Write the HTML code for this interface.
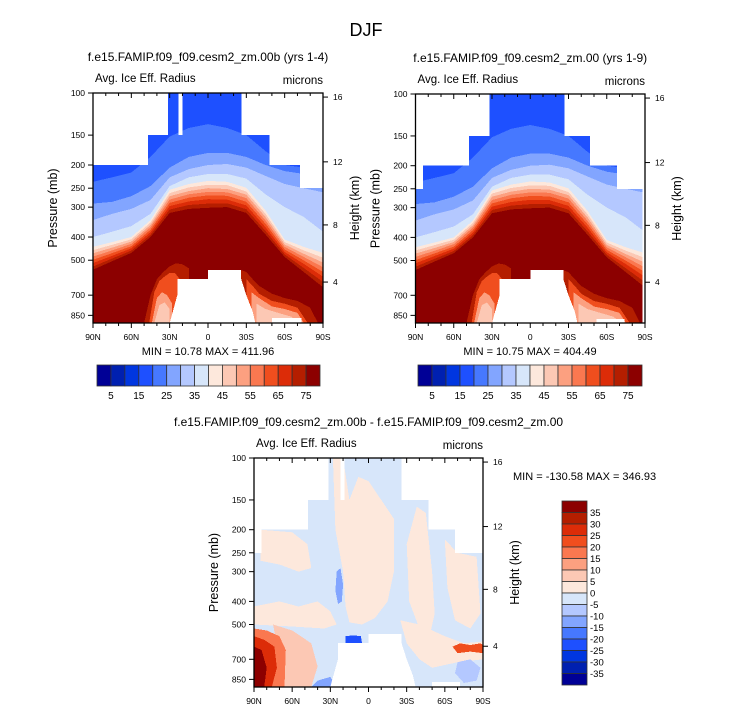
<!DOCTYPE html>
<html><head><meta charset="utf-8">
<style>
html,body{margin:0;padding:0;background:#fff;}
svg{display:block;font-family:"Liberation Sans",sans-serif;}
</style></head>
<body>
<svg id="fig" width="733" height="712" viewBox="0 0 733 712" xmlns="http://www.w3.org/2000/svg">
<text x="366" y="36" text-anchor="middle" font-size="18">DJF</text>
</svg>
<script>
// ---------- data ----------
const presTicks = [100,150,200,250,300,400,500,700,850];
const latTicks = [90,60,30,0,-30,-60,-90];
const latTickLabels = ["90N","60N","30N","0","30S","60S","90S"];
const kmTicks = [4,8,12,16];
const kmTickPres = [617,356,194,104];
const absColors = ["#000096","#0020b0","#0036e0","#1e50ff","#4678ff","#82a5ff","#b4c8ff","#d7e6fa","#fde8dc","#fcc8b4","#fca080","#fa7850","#f04e1e","#dc2c08","#b41e00","#8c0000"];
const absLabels = ["5","15","25","35","45","55","65","75"];
const diffLabels = ["35","30","25","20","15","10","5","0","-5","-10","-15","-20","-25","-30","-35"];
// boundary latitudes for mean-state contours
const bLats = [90,75,60,45,30,15,0,-15,-30,-45,-60,-75,-90];
// pressure (mb) where field exceeds each level, per bLats (levels 20..75+)
const lev20 = [235,225,215,185,152,140,135,140,150,175,200,205,210];
const lev25 = [290,285,270,245,205,185,178,178,185,200,212,218,220];
const lev30 = [340,320,305,280,225,208,200,198,205,222,240,250,260];
const lev35 = [400,380,360,320,245,225,218,218,228,265,300,330,380];
const lev40 = [440,420,400,340,254,240,233,235,249,310,410,440,466];
const lev45 = [454,431,409,348,262,248,242,243,258,320,420,455,488];
const lev50 = [468,443,418,356,270,257,250,252,266,330,430,470,511];
const lev55 = [483,455,427,364,279,265,259,260,275,341,440,485,535];
const lev60 = [498,467,437,373,288,274,268,269,285,352,451,501,560];
const lev65 = [514,479,446,382,297,284,278,279,295,364,462,518,586];
const lev70 = [531,492,456,391,307,294,290,289,306,377,473,539,616];
const lev75 = [548,505,466,400,317,305,302,300,317,390,485,560,648];
const meanLevels = [lev20,lev25,lev30,lev35,lev40,lev45,lev50,lev55,lev60,lev65,lev70,lev75];
// near-surface reduced values (lat list, top pressure list, colour index)
const nhLowLats = [[50,45,40,35,30,25,20,15],[46,42,38,34,30,26,22],[44,40,36,32,28],[42,38,34,30]];
const nhLowPres = [[915,700,600,560,530,515,520,540],[915,680,610,585,565,565,600],[915,720,680,700,760],[915,770,750,800]];
const shLowLats = [[-26,-30,-35,-40,-50,-60,-70,-80,-86],[-30,-35,-40,-50,-60,-70,-78],[-34,-40,-50,-60,-70,-75],[-38,-45,-55,-65,-72]];
const shLowPres = [[550,560,600,640,690,720,740,790,915],[600,640,690,740,760,790,915],[680,720,780,800,830,915],[760,800,830,860,915]];
const lowColorIdx = [14,12,10,9];
// missing-data masks (white) [lat1,lat2,p1,p2]
const mask1 = [[90,31.5,100,150],[23,20,100,150],[-26.4,-90,100,150],[90,47,150,200],[-48,-90,150,200],[-72,-90,200,250],[-50,-73,870,915]];
const mask2 = [[90,32,100,150],[-27,-90,100,150],[90,48,150,200],[-47,-90,150,200],[90,84,200,250],[-68,-90,200,250],[-88,-90,250,915],[-52,-74,880,915]];
const mask3 = [[90,31.6,100,150],[22,19,100,150],[-26,-90,100,150],[90,47.5,150,200],[-47,-90,150,200],[90,84,200,250],[-68,-90,200,250],[-50,-72,870,915]];
const topoLats = [24,0,0,-26,-26,-30,-35,-37,30,27,24];
const topoPres = [599,599,549,549,599,700,820,915,915,800,700];
// difference field patches: [lat,p] pairs and colour
const diffPatchPts = [
 [[28,100],[20,100],[15,150],[8,120],[0,125],[-10,150],[-20,180],[-20,300],[-15,400],[-5,470],[5,500],[15,490],[18,420],[20,300],[26,200]],
 [[85,200],[60,205],[48,230],[45,290],[55,300],[70,280],[85,270]],
 [[90,420],[70,400],[55,420],[40,400],[30,440],[25,500],[35,520],[60,510],[90,500]],
 [[-30,230],[-38,160],[-45,170],[-50,300],[-52,450],[-48,560],[-40,520],[-32,400]],
 [[-60,220],[-70,250],[-85,260],[-88,450],[-80,520],[-68,480],[-62,350]],
 [[-25,480],[-40,500],[-60,560],[-75,600],[-90,590],[-90,700],[-70,720],[-50,760],[-40,700],[-30,600]],
 [[75,500],[60,530],[45,600],[40,750],[45,915],[68,915],[70,700]]
];
const diffPatchCol = ["#fde8dc","#fde8dc","#fde8dc","#fde8dc","#fde8dc","#fde8dc","#fcc8b4"];
const diffBluePts = [
 [[25,300],[22,290],[20,340],[21,400],[24,410],[26,360]],
 [[18,560],[12,555],[6,560],[5,600],[12,610],[18,600]],
 [[-70,720],[-80,700],[-88,760],[-85,860],[-75,880],[-68,800]],
 [[40,860],[30,830],[25,915],[45,915]]
];
const diffBlueCol = ["#82a5ff","#1e50ff","#b4c8ff","#82a5ff"];
const diffRedLats = [[90,80,70,65,66,70],[90,82,74,72,76],[90,84,80,82]];
const diffRedPres = [[520,530,560,640,915,915],[560,580,620,760,915],[620,640,760,915]];
const diffRedCol = ["#fa7850","#dc2c08","#8c0000"];
const shRedLats = [-66,-72,-80,-88,-90,-90,-80,-70];
const shRedPres = [620,600,610,600,610,660,650,660];
// ---------- drawing ----------
const NS="http://www.w3.org/2000/svg";
const svg=document.getElementById('fig');
function el(tag,attrs,parent){const e=document.createElementNS(NS,tag);for(const k in attrs)e.setAttribute(k,attrs[k]);(parent||svg).appendChild(e);return e;}
function makeAxes(x0,y0,w,h){
  const PB=915;
  return {xs:lat=>x0+(90-lat)/180*w, ys:p=>y0+Math.log(p/100)/Math.log(PB/100)*h, x0,y0,w,h};
}
function poly(ax,pts,fill,g,name){
  const s=pts.map(q=>ax.xs(q[0]).toFixed(1)+","+ax.ys(q[1]).toFixed(1)).join(" ");
  const e=el('polygon',{points:s,fill:fill},g);
  
  
  return e;
}
function drawMean(g,ax){
  poly(ax,[[90,100],[-90,100],[-90,915],[90,915]],absColors[3],g,'contour-fill-base');
  meanLevels.forEach((lv,i)=>{
    const pts=bLats.map((la,j)=>[la,lv[j]]);
    pts.push([-90,915]);pts.push([90,915]);
    poly(ax,pts,absColors[4+i],g,'contour-fill-level');
  });
  nhLowLats.forEach((la,i)=>{
    const pts=la.map((l,j)=>[l,nhLowPres[i][j]]);pts.push([la[la.length-1],915]);
    poly(ax,pts,absColors[lowColorIdx[i]],g,'surface-contour-nh');
  });
  shLowLats.forEach((la,i)=>{
    const pts=la.map((l,j)=>[l,shLowPres[i][j]]);pts.push([la[0],915]);
    poly(ax,pts,absColors[lowColorIdx[i]],g,'surface-contour-sh');
  });
}
function drawDiff(g,ax){
  poly(ax,[[90,100],[-90,100],[-90,915],[90,915]],"#d7e6fa",g,'contour-fill-base');
  diffPatchPts.forEach((p,i)=>poly(ax,p,diffPatchCol[i],g,'diff-positive-patch'));
  diffBluePts.forEach((p,i)=>poly(ax,p,diffBlueCol[i],g,'diff-negative-patch'));
  diffRedLats.forEach((la,i)=>{
    const pts=la.map((l,j)=>[l,diffRedPres[i][j]]);pts.push([90,915]);
    poly(ax,pts,diffRedCol[i],g,'diff-red-blob');
  });
  poly(ax,shRedLats.map((l,j)=>[l,shRedPres[j]]),"#f04e1e",g,'diff-red-blob-sh');
}
function drawMasks(g,ax,masks){
  masks.forEach(m=>poly(ax,[[m[0],m[2]],[m[1],m[2]],[m[1],m[3]],[m[0],m[3]]],"#fff",g,'missing-data-mask'));
  poly(ax,topoLats.map((l,j)=>[l,topoPres[j]]),"#fff",g,'topography-mask');
}
function txt(x,y,s,size,anchor,name,rot){
  const t=el('text',{x:x,y:y,'font-size':size,'text-anchor':anchor||'start'});
  if(rot)t.setAttribute('transform',`rotate(-90 ${x} ${y})`);
  t.textContent=s;
  
  
  return t;
}
function drawPanel(x0,y0,w,h,title,kind,masks,minmax,mmPos){
  const g=el('g',{});
  
  
  const ax=makeAxes(x0,y0,w,h);
  const cp=el('clipPath',{id:'c'+Math.round(x0)+'_'+y0},g);
  el('rect',{x:x0,y:y0,width:w,height:h},cp);
  const fg=el('g',{'clip-path':`url(#c${Math.round(x0)}_${y0})`,'shape-rendering':'crispEdges'},g);
  
  
  if(kind==='diff')drawDiff(fg,ax);else drawMean(fg,ax);
  drawMasks(fg,ax,masks);
  const fr=el('rect',{x:x0,y:y0,width:w,height:h,fill:'none',stroke:'#000','stroke-width':1.3},g);
  
  presTicks.forEach(p=>{
    const y=ax.ys(p);
    el('line',{x1:x0-5,x2:x0,y1:y,y2:y,stroke:'#000','stroke-width':1},g);
    txt(x0-8,y+3,String(p),8.5,'end','pressure-tick-label');
  });
  kmTicks.forEach((k,i)=>{
    const y=ax.ys(kmTickPres[i]);
    el('line',{x1:x0+w,x2:x0+w+5,y1:y,y2:y,stroke:'#000','stroke-width':1},g);
    txt(x0+w+10,y+3,String(k),8.5,'start','height-tick-label');
  });
  for(let la=90;la>=-90;la-=10){
    const x=ax.xs(la), major=(la%30===0);
    el('line',{x1:x,x2:x,y1:y0+h,y2:y0+h+(major?5:3),stroke:'#000','stroke-width':1},g);
    el('line',{x1:x,x2:x,y1:y0,y2:y0+(major?5:3),stroke:'#000','stroke-width':1},g);
  }
  latTicks.forEach((la,i)=>txt(ax.xs(la),y0+h+17,latTickLabels[i],8.5,'middle','latitude-tick-label'));
  txt(x0+w/2,y0-32,title,12,'middle','panel-title');
  txt(x0+2,y0-11,'Avg. Ice Eff. Radius',11.5,'start','variable-label');
  txt(x0+w,y0-9,'microns',11.5,'end','units-label');
  txt(x0-36,y0+h/2,'Pressure (mb)',12.5,'middle','y-axis-title',true);
  txt(x0+w+36,y0+h/2,'Height (km)',12.5,'middle','right-axis-title',true);
  txt(mmPos[0],mmPos[1],minmax,11,mmPos[2],'min-max-label');
}
function hColorbar(x0,y0,w,h){
  const g=el('g',{});
  const bw=w/16;
  absColors.forEach((c,i)=>{const r=el('rect',{x:x0+i*bw,y:y0,width:bw,height:h,fill:c,stroke:'#333','stroke-width':0.8},g);
    });
  absLabels.forEach((s,i)=>txt(x0+(2*i+1)*bw,y0+h+13,s,10,'middle','colorbar-label'));
}
function vColorbar(x0,y0,w,h){
  const g=el('g',{});
  const bh=h/16;
  absColors.slice().reverse().forEach((c,i)=>{const r=el('rect',{x:x0,y:y0+i*bh,width:w,height:bh,fill:c,stroke:'#333','stroke-width':0.8},g);
    });
  diffLabels.forEach((s,i)=>txt(x0+w+3,y0+(i+1)*bh+3.5,s,9.5,'start','colorbar-label'));
}
drawPanel(93,93,230,230,'f.e15.FAMIP.f09_f09.cesm2_zm.00b (yrs 1-4)','mean',mask1,'MIN =  10.78  MAX = 411.96',[208,355,'middle']);
drawPanel(415.5,94,229.5,229,'f.e15.FAMIP.f09_f09.cesm2_zm.00 (yrs 1-9)','mean',mask2,'MIN =  10.75  MAX = 404.49',[530,355,'middle']);
drawPanel(254,458,229,229,'f.e15.FAMIP.f09_f09.cesm2_zm.00b - f.e15.FAMIP.f09_f09.cesm2_zm.00','diff',mask3,'MIN = -130.58  MAX = 346.93',[513,480,'start']);
hColorbar(97,365,223,21);
hColorbar(418,365,224,21);
vColorbar(562,501,25,184);
</script>
</body></html>
